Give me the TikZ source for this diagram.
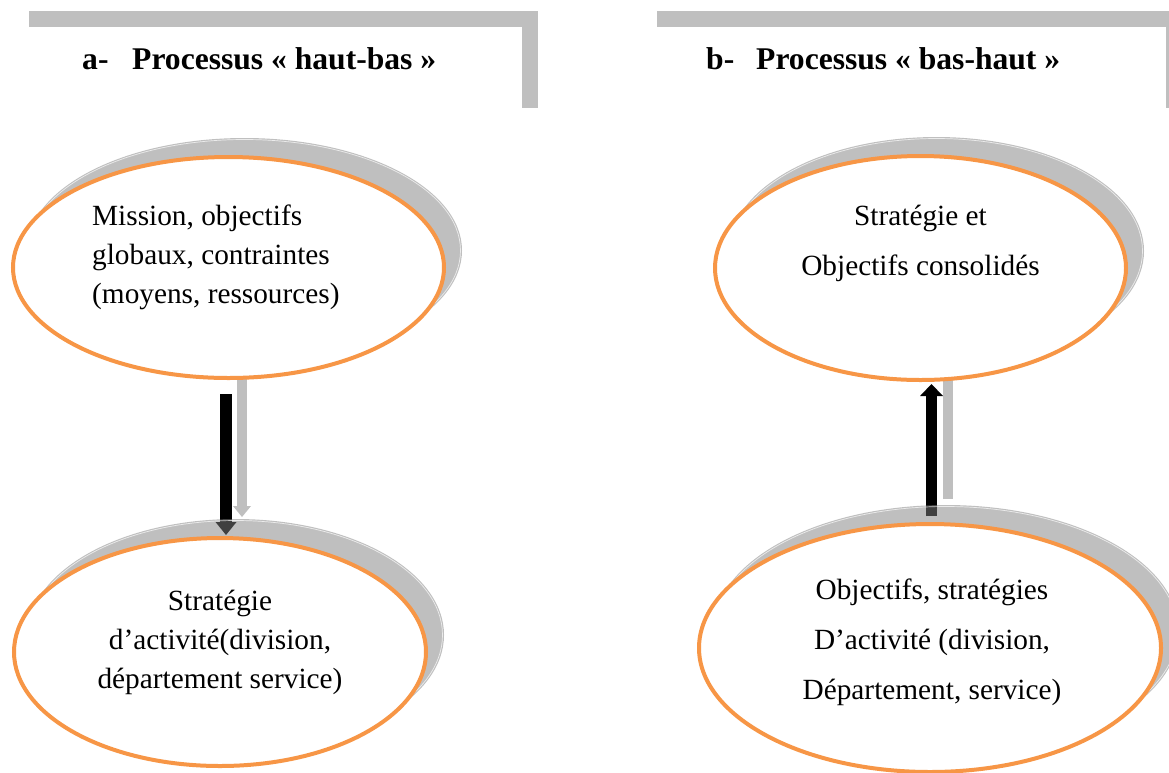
\documentclass[tikz,border=0pt]{standalone}
\usepackage{fontspec}
\setmainfont{Liberation Serif}
\usetikzlibrary{shapes.geometric,arrows.meta}
\definecolor{accent}{HTML}{F79646}
\definecolor{barGray}{HTML}{BFBFBF}

\begin{document}
\begin{tikzpicture}[x=1pt,y=-1pt,
  bar/.style={fill=barGray},
  bubble/.style={ellipse, draw=accent, line width=4pt, fill=white, inner sep=0pt},
  ellshadow/.style={fill=black!50, fill opacity=0.5},
  shadowrim/.style={draw=white, line width=0.7pt, draw opacity=0.7},
  bodytext/.style={inner sep=0pt, font=\fontsize{29.3}{39}\selectfont},
  widetext/.style={inner sep=0pt, font=\fontsize{29.3}{50}\selectfont},
  titletext/.style={inner sep=0pt, anchor=base west, font=\fontsize{31.6}{38}\selectfont\bfseries},
  arrowshade/.style={draw=barGray, line width=10pt, -{Triangle[width=18pt,length=11pt,line width=0pt]}},
  blockdown/.style={draw=black, line width=12pt, -{Triangle[width=21pt,length=13pt,line width=0pt]}},
  blockup/.style={draw=black, line width=11pt, -{Triangle[width=23pt,length=12pt,line width=0pt]}}
]
\useasboundingbox (0,0) rectangle (1169,772);
\clip (0,0) rectangle (1169,772);

% heading frames
\fill[bar] (29,11) rectangle (538,27);
\fill[bar] (522,11) rectangle (538,108);
\fill[bar] (657,11) rectangle (1185,27);
\fill[bar] (1166,11) rectangle (1182,108);

% headings
\node[titletext] (ta) at (82,69) {a-};
\node[titletext] (tb) at (132,69) {Processus « haut-bas »};
\node[titletext] (tc) at (706,69) {b-};
\node[titletext] (td) at (756,69) {Processus « bas-haut »};

% centres of the four bubbles
\coordinate (c1) at (228.5,267.5);
\coordinate (c2) at (220,652);
\coordinate (c3) at (920.5,268);
\coordinate (c4) at (930,648);

% arrow ends
\coordinate (dnTop) at (226,394);
\coordinate (dnTip) at (226,535);
\coordinate (upFoot) at (931.5,516);
\coordinate (upTip) at (931.5,384);

% arrow shadows, then arrows
\draw[arrowshade] ([shift={(16,-18)}]dnTop) -- ([shift={(16,-18)}]dnTip);
\draw[arrowshade] ([shift={(16,-17)}]upFoot) -- ([shift={(16,-17)}]upTip);
\draw[blockdown] (dnTop) -- (dnTip);
\draw[blockup] (upFoot) -- (upTip);

% bubble shadows
\fill[ellshadow] ([shift={(16,-17)}]c1) ellipse [x radius=217.5pt, y radius=112.5pt];
\draw[shadowrim] ([shift={(16,-17)}]c1) ellipse [x radius=216pt, y radius=111pt];
\fill[ellshadow] ([shift={(16,-17)}]c2) ellipse [x radius=208pt, y radius=116pt];
\draw[shadowrim] ([shift={(16,-17)}]c2) ellipse [x radius=206.5pt, y radius=114.5pt];
\fill[ellshadow] ([shift={(16,-17)}]c3) ellipse [x radius=207.5pt, y radius=114pt];
\draw[shadowrim] ([shift={(16,-17)}]c3) ellipse [x radius=206pt, y radius=112.5pt];
\fill[ellshadow] ([shift={(16,-17)}]c4) ellipse [x radius=233pt, y radius=126pt];
\draw[shadowrim] ([shift={(16,-17)}]c4) ellipse [x radius=231.5pt, y radius=124.5pt];

% bubbles
\node[bubble, minimum width=431pt, minimum height=221pt] (e1) at (c1) {};
\node[bubble, minimum width=412pt, minimum height=228pt] (e2) at (c2) {};
\node[bubble, minimum width=411pt, minimum height=224pt] (e3) at (c3) {};
\node[bubble, minimum width=462pt, minimum height=248pt] (e4) at (c4) {};

% bubble texts
\node[bodytext, align=left, anchor=north west] (t1) at (92,205)
  {Mission, objectifs\\globaux, contraintes\\(moyens, ressources)};
\node[bodytext, align=center, anchor=north] (t2) at (220,590)
  {Stratégie\\d’activité(division,\\département service)};
\node[widetext, align=center, anchor=north] (t3) at (920.5,205)
  {Stratégie et\\Objectifs consolidés};
\node[widetext, align=center, anchor=north] (t4) at (932,579)
  {Objectifs, stratégies\\D’activité (division,\\Département, service)};
\end{tikzpicture}
\end{document}
